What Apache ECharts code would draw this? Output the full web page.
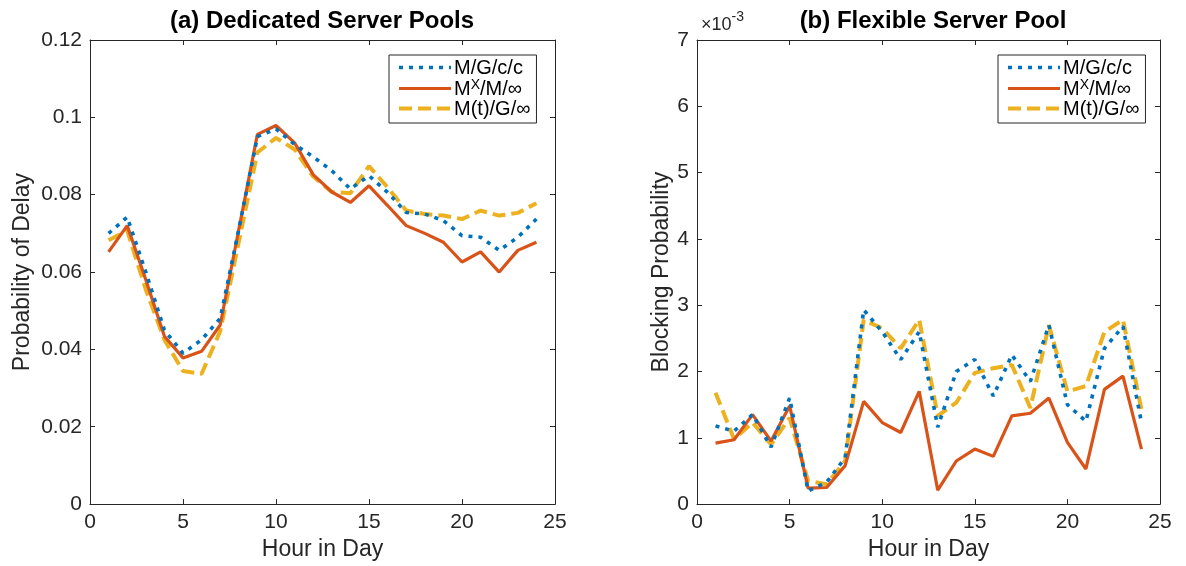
<!DOCTYPE html>
<html>
<head>
<meta charset="utf-8">
<style>html,body{margin:0;padding:0;background:#fff;}#c{width:1186px;height:566px;}</style>
<script src="https://cdn.jsdelivr.net/npm/echarts@6/dist/echarts.min.js"></script>
</head>
<body>
<div id="c"></div>
<script>
// ---- data ----
const hours = [1,2,3,4,5,6,7,8,9,10,11,12,13,14,15,16,17,18,19,20,21,22,23,24];
const seriesNames = ['M/G/c/c', 'MX/M/∞', 'M(t)/G/∞'];
// (a) Probability of delay, dedicated server pools
const delayMGcc = [0.0700,0.0742,0.0600,0.0450,0.0390,0.0425,0.0480,0.0710,0.0950,0.0970,0.0930,0.0898,0.0862,0.0815,0.0849,0.0806,0.0754,0.0750,0.0733,0.0694,0.0690,0.0656,0.0690,0.0737];
const delayMxM  = [0.0652,0.0720,0.0580,0.0434,0.0378,0.0395,0.0463,0.0710,0.0956,0.0979,0.0934,0.0852,0.0807,0.0780,0.0823,0.0772,0.0720,0.0700,0.0677,0.0626,0.0652,0.0600,0.0656,0.0677];
const delayMtG  = [0.0682,0.0707,0.0555,0.0425,0.0344,0.0337,0.0447,0.0678,0.0909,0.0947,0.0917,0.0847,0.0807,0.0804,0.0874,0.0819,0.0759,0.0750,0.0746,0.0737,0.0759,0.0746,0.0753,0.0778];
// (b) Blocking probability, flexible server pool (units of 1e-3)
const blockMGcc = [1.18,1.10,1.35,0.86,1.60,0.20,0.33,0.70,2.93,2.60,2.18,2.60,1.16,2.00,2.18,1.63,2.25,1.85,2.70,1.50,1.25,2.35,2.68,1.23];
const blockMxM  = [0.92,0.97,1.35,0.95,1.48,0.24,0.25,0.58,1.55,1.23,1.08,1.70,0.21,0.65,0.83,0.72,1.33,1.37,1.60,0.93,0.53,1.73,1.93,0.83];
const blockMtG  = [1.68,0.98,1.23,0.90,1.30,0.35,0.30,0.65,2.78,2.65,2.35,2.78,1.33,1.53,1.98,2.05,2.10,1.45,2.70,1.70,1.78,2.60,2.78,1.43];
const xTicks = {min: 0, max: 25, interval: 5};
const yTicksA = {min: 0, max: 0.12, interval: 0.02};
const yTicksB = {min: 0, max: 7, interval: 1};

// ---- styles ----
const FONT = 'Liberation Sans, Arial, Helvetica, sans-serif';
const INK = '#262626';
const colors = ['#0072BD', '#D95319', '#EDB120'];
const lineStyles = [
  {color: colors[0], width: 3.6, type: [4, 6]},
  {color: colors[1], width: 3.2, type: 'solid'},
  {color: colors[2], width: 4, type: [13, 6]}
];

const pairs = (ys) => hours.map((h, i) => [h, ys[i]]);

function xAx(gridIndex, pos, showLabel, name) {
  return {
    type: 'value', gridIndex, position: pos, min: xTicks.min, max: xTicks.max, interval: xTicks.interval,
    axisLine: {show: true, onZero: false, lineStyle: {color: INK, width: 1}},
    axisTick: {show: true, inside: true, length: 5, lineStyle: {color: INK}},
    axisLabel: {show: showLabel, color: INK, fontSize: 21, fontFamily: FONT, margin: 8},
    splitLine: {show: false},
    name: name || '', nameLocation: 'middle', nameGap: 32,
    nameTextStyle: {color: INK, fontSize: 23, fontFamily: FONT}
  };
}
function yAx(gridIndex, pos, showLabel, t, name, fmt, gap) {
  return {
    type: 'value', gridIndex, position: pos, min: t.min, max: t.max, interval: t.interval,
    axisLine: {show: true, onZero: false, lineStyle: {color: INK, width: 1}},
    axisTick: {show: true, inside: true, length: 5, lineStyle: {color: INK}},
    axisLabel: {show: showLabel, color: INK, fontSize: 21, fontFamily: FONT, margin: 8, formatter: fmt},
    splitLine: {show: false},
    name: name || '', nameLocation: 'middle', nameGap: gap || 50,
    nameTextStyle: {color: INK, fontSize: 23, fontFamily: FONT}
  };
}

const legendRich = {
  n: {fontSize: 20, fontFamily: FONT, color: '#000', lineHeight: 21, verticalAlign: 'bottom'},
  sup: {fontSize: 14, fontFamily: FONT, color: '#000', lineHeight: 11, verticalAlign: 'top'}
};
function legendFmt(name) {
  if (name === 'MX/M/∞') return '{n|M}{sup|X}{n|/M/∞}';
  return '{n|' + name + '}';
}
function legend(left) {
  return {
    orient: 'vertical', left, top: 55, itemWidth: 52, itemHeight: 14, itemGap: 0,
    padding: [3, 6, 4, 8], borderColor: INK, borderWidth: 1, backgroundColor: '#fff',
    textStyle: {rich: legendRich, padding: [0, 0, 0, -2]}, formatter: legendFmt, selectedMode: false,
    data: seriesNames, itemStyle: {opacity: 0},
    lineStyle: {width: 'inherit', type: 'inherit', color: 'inherit'}
  };
}

const series = [];
[[delayMGcc, delayMxM, delayMtG], [blockMGcc, blockMxM, blockMtG]].forEach((set, g) => {
  set.forEach((ys, k) => {
    series.push({
      name: seriesNames[k], type: 'line', xAxisIndex: g * 2, yAxisIndex: g * 2,
      data: pairs(ys), symbol: 'none', showSymbol: false, lineStyle: lineStyles[k],
      itemStyle: {color: colors[k]}, z: 10 - k, animation: false
    });
  });
});

const option = {
  animation: false,
  backgroundColor: '#fff',
  title: [
    {text: '(a) Dedicated Server Pools', left: 317, top: 4, textAlign: 'center',
     textStyle: {fontSize: 24, fontWeight: 'bold', fontFamily: FONT, color: '#000'}},
    {text: '(b) Flexible Server Pool', left: 928, top: 4, textAlign: 'center',
     textStyle: {fontSize: 24, fontWeight: 'bold', fontFamily: FONT, color: '#000'}}
  ],
  grid: [
    {left: 90, right: 631, top: 40, bottom: 59},
    {left: 697, right: 26, top: 40, bottom: 59}
  ],
  xAxis: [
    xAx(0, 'bottom', true, 'Hour in Day'), xAx(0, 'top', false),
    xAx(1, 'bottom', true, 'Hour in Day'), xAx(1, 'top', false)
  ],
  yAxis: [
    yAx(0, 'left', true, yTicksA, 'Probability of Delay', v => (v === 0 ? '0' : String(+v.toFixed(2))), 56),
    yAx(0, 'right', false, yTicksA),
    yAx(1, 'left', true, yTicksB, 'Blocking Probability', v => String(v), 23),
    yAx(1, 'right', false, yTicksB)
  ],
  legend: [legend(389), legend(998)],
  graphic: [{
    type: 'text', left: 701, top: 10,
    style: {
      text: '{a|×10}{b|-3}', fill: INK,
      rich: {a: {fontSize: 18, fontFamily: FONT, fill: INK, lineHeight: 24, verticalAlign: 'bottom'},
             b: {fontSize: 14, fontFamily: FONT, fill: INK, lineHeight: 12, verticalAlign: 'top'}}
    }
  }],
  series
};
const chart = echarts.init(document.getElementById('c'), null, {renderer: 'canvas'});
chart.setOption(option);
</script>
</body>
</html>
